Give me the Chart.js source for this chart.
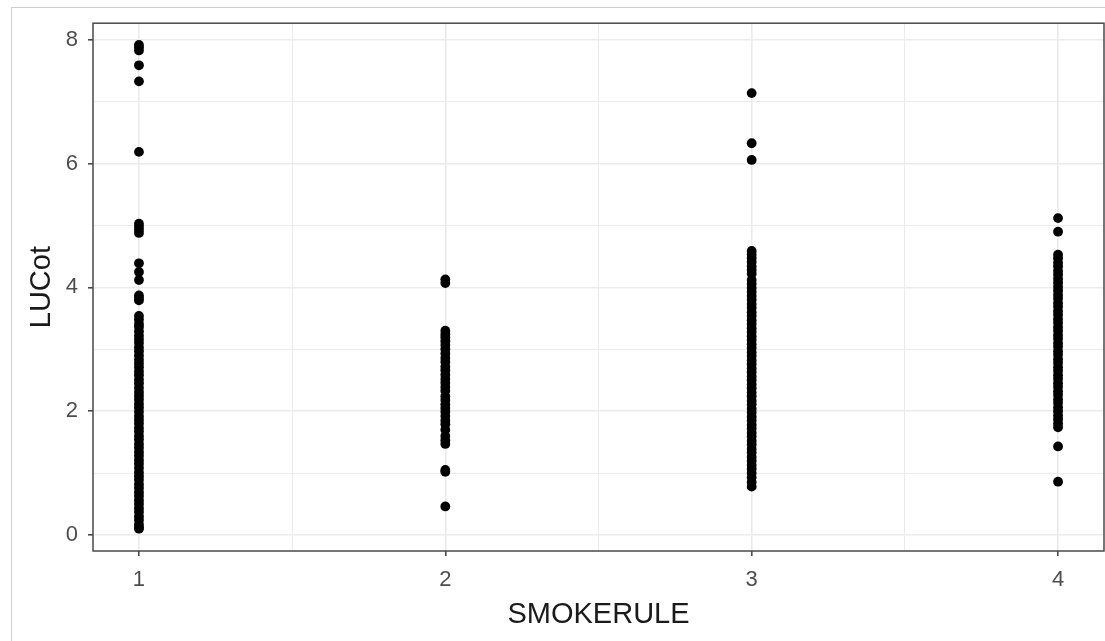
<!DOCTYPE html>
<html>
<head>
<meta charset="utf-8">
<script src="https://cdn.jsdelivr.net/npm/chart.js@4"></script>
<style>
  html, body { margin: 0; padding: 0; background: #fff; overflow: hidden; }
  #frame { position: absolute; left: 11px; top: 7px; width: 1200px; height: 700px; border: 1px solid #cfcfcf; }
  #plot { position: absolute; left: 0; top: 0; }
</style>
</head>
<body>
<div id="frame"></div>
<canvas id="plot" width="1105" height="641"></canvas>
<script>
// SMOKERULE categories and LUCot values
const categories = [1, 2, 3, 4];

const lucot1 = [7.92, 7.88, 7.83, 7.59, 7.33, 6.19, 5.03, 4.98, 4.93, 4.88, 4.39, 4.25, 4.12,
  3.87, 3.83, 3.79,
  3.54, 3.48, 3.41, 3.36, 3.29, 3.22, 3.16, 3.1, 3.03, 2.97, 2.9, 2.83, 2.77, 2.71, 2.64, 2.58,
  2.51, 2.45, 2.38, 2.31, 2.25, 2.19, 2.12, 2.06, 1.99, 1.92, 1.86, 1.8, 1.73, 1.67, 1.6, 1.54,
  1.47, 1.41, 1.34, 1.28, 1.21, 1.15, 1.08, 1.01, 0.95, 0.89, 0.82, 0.76, 0.69, 0.63, 0.56,
  0.5, 0.43, 0.37, 0.3, 0.24, 0.17, 0.12, 0.1];

const lucot2 = [4.13, 4.07, 3.3, 3.24, 3.19, 3.13, 3.07, 3.0, 2.93, 2.86, 2.8, 2.72, 2.66,
  2.59, 2.52, 2.46, 2.39, 2.33, 2.24, 2.18, 2.11, 2.05, 1.99, 1.92, 1.85, 1.79, 1.7, 1.6,
  1.53, 1.47, 1.05, 1.02, 0.46];

const lucot3 = [7.14, 6.33, 6.06, 4.59, 4.53, 4.47, 4.41, 4.34, 4.28, 4.22, 4.12, 4.06, 3.99,
  3.93, 3.86, 3.8, 3.73, 3.67, 3.6, 3.54, 3.47, 3.41, 3.34, 3.28, 3.21, 3.15, 3.08, 3.02, 2.95,
  2.89, 2.82, 2.76, 2.69, 2.63, 2.56, 2.5, 2.43, 2.37, 2.3, 2.24, 2.17, 2.11, 2.04, 1.98, 1.91,
  1.85, 1.78, 1.72, 1.65, 1.59, 1.52, 1.46, 1.39, 1.33, 1.26, 1.2, 1.13, 1.07, 1.0, 0.93,
  0.85, 0.78];

const lucot4 = [5.12, 4.9, 4.53, 4.47, 4.4, 4.34, 4.27, 4.21, 4.14, 4.08, 4.01, 3.95, 3.88,
  3.82, 3.75, 3.69, 3.62, 3.56, 3.49, 3.43, 3.36, 3.3, 3.23, 3.17, 3.1, 3.04, 2.97, 2.91, 2.84,
  2.78, 2.71, 2.65, 2.58, 2.52, 2.45, 2.39, 2.32, 2.26, 2.19, 2.13, 2.06, 2.0, 1.93, 1.87, 1.8,
  1.74, 1.43, 0.86];

const xTicks = [1, 1.5, 2, 2.5, 3, 3.5, 4];
const yTicks = [0, 1, 2, 3, 4, 5, 6, 7, 8];

const groups = [lucot1, lucot2, lucot3, lucot4];
const points = [];
groups.forEach((vals, i) => {
  vals.forEach(v => points.push({ x: categories[i], y: v }));
});

const font = 'Liberation Sans, Arial, sans-serif';

// ggplot-style panel border drawn on top
const panelBorder = {
  id: 'panelBorder',
  afterDatasetsDraw(chart) {
    const { ctx, chartArea: a } = chart;
    ctx.save();
    ctx.strokeStyle = '#4a4a4a';
    ctx.lineWidth = 1.5;
    ctx.strokeRect(a.left, a.top, a.right - a.left, a.bottom - a.top);
    ctx.restore();
  }
};

new Chart(document.getElementById('plot'), {
  type: 'scatter',
  data: {
    datasets: [{
      data: points,
      backgroundColor: '#000',
      borderWidth: 0,
      pointRadius: 4.9,
      pointHoverRadius: 4.9
    }]
  },
  options: {
    responsive: false,
    animation: false,
    devicePixelRatio: 1,
    layout: { autoPadding: false, padding: { top: 23, right: 1, left: 0, bottom: 0 } },
    plugins: { legend: { display: false }, tooltip: { enabled: false } },
    scales: {
      x: {
        type: 'linear',
        min: 0.85,
        max: 4.15,
        afterBuildTicks: s => { s.ticks = xTicks.map(v => ({ value: v })); },
        afterFit: s => { s.height = 90; },
        border: { display: false },
        grid: {
          color: '#ebebeb',
          lineWidth: c => (c.tick && c.tick.value % 1 === 0 ? 1.6 : 1),
          tickLength: 5,
          tickColor: c => (c.tick && c.tick.value % 1 === 0 ? '#4a4a4a' : 'rgba(0,0,0,0)')
        },
        ticks: {
          autoSkip: false,
          maxRotation: 0,
          padding: 11,
          color: '#4d4d4d',
          font: { family: font, size: 22 },
          callback: v => (v % 1 === 0 ? String(v) : '')
        },
        title: {
          display: true,
          text: 'SMOKERULE',
          color: '#1a1a1a',
          font: { family: font, size: 29 },
          padding: { bottom: 9 }
        }
      },
      y: {
        min: -0.26,
        max: 8.27,
        afterBuildTicks: s => { s.ticks = yTicks.map(v => ({ value: v })); },
        afterFit: s => { s.width = 93; },
        border: { display: false },
        grid: {
          color: '#ebebeb',
          lineWidth: c => (c.tick && c.tick.value % 2 === 0 ? 1.6 : 1),
          tickLength: 5,
          tickColor: c => (c.tick && c.tick.value % 2 === 0 ? '#4a4a4a' : 'rgba(0,0,0,0)')
        },
        ticks: {
          autoSkip: false,
          padding: 10,
          color: '#4d4d4d',
          font: { family: font, size: 22 },
          callback: v => (v % 2 === 0 ? String(v) : '')
        },
        title: {
          display: true,
          text: 'LUCot',
          color: '#1a1a1a',
          font: { family: font, size: 29 },
          padding: { top: 25 }
        }
      }
    }
  },
  plugins: [panelBorder]
});
</script>
</body>
</html>
